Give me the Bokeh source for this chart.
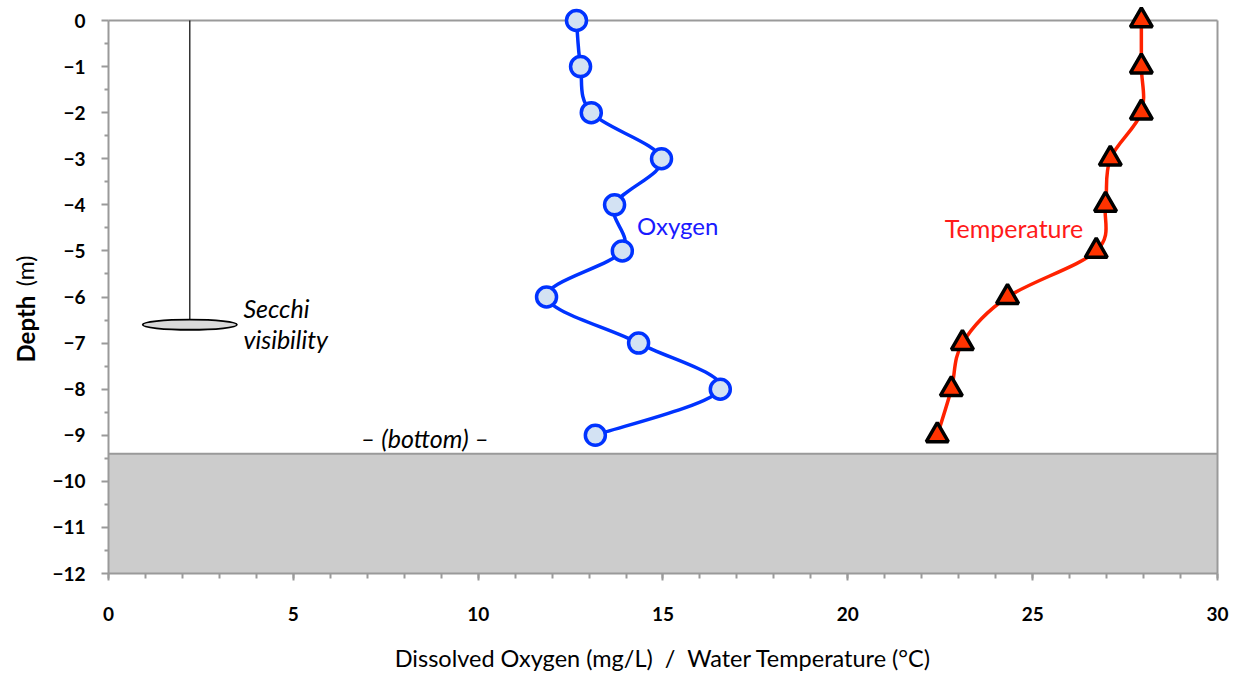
from math import pi

from bokeh.embed import file_html
from bokeh.models import FixedTicker, Label, Range1d
from bokeh.plotting import figure
from bokeh.resources import INLINE

# Depth profile (m) with dissolved oxygen (mg/L) and water temperature (°C)
depth = [0, -1, -2, -3, -4, -5, -6, -7, -8, -9]
oxygen = [12.66, 12.77, 13.06, 14.96, 13.69, 13.90, 11.85, 14.34, 16.55, 13.17]
temperature = [27.94, 27.94, 27.94, 27.10, 26.97, 26.72, 24.32, 23.10, 22.80, 22.42]

# Lake bottom, Secchi disk reading
bottom_depth = -9.4
max_depth = -12
secchi_depth = -6.6
secchi_x = 2.2

x_ticks = [0, 5, 10, 15, 20, 25, 30]
y_ticks = list(range(-12, 1))

FONT = "Lato"
AXIS_GREY = "#9a9a9a"
NBSP = "\u00a0"


def smooth_segments(xs, ys):
    """Catmull-Rom style cubic Bezier segments through every point."""
    n = len(xs)
    segs = dict(x0=[], y0=[], x1=[], y1=[], cx0=[], cy0=[], cx1=[], cy1=[])
    for i in range(n - 1):
        p0 = (xs[max(i - 1, 0)], ys[max(i - 1, 0)])
        p1 = (xs[i], ys[i])
        p2 = (xs[i + 1], ys[i + 1])
        p3 = (xs[min(i + 2, n - 1)], ys[min(i + 2, n - 1)])
        segs["x0"].append(p1[0]); segs["y0"].append(p1[1])
        segs["x1"].append(p2[0]); segs["y1"].append(p2[1])
        segs["cx0"].append(p1[0] + (p2[0] - p0[0]) / 6)
        segs["cy0"].append(p1[1] + (p2[1] - p0[1]) / 6)
        segs["cx1"].append(p2[0] - (p3[0] - p1[0]) / 6)
        segs["cy1"].append(p2[1] - (p3[1] - p1[1]) / 6)
    return segs


# The frame fills the canvas; both axes are pinned at the data origin corner
# (x=0, depth=-12) so their labels and titles sit inside the frame.
p = figure(
    width=1241, height=674,
    x_range=Range1d(-2.921, 30.649), y_range=Range1d(-14.19, 0.434),
    output_backend="svg", toolbar_location=None,
    min_border_left=0, min_border_right=0, min_border_top=0, min_border_bottom=0,
)
p.outline_line_color = None
p.xgrid.visible = False
p.ygrid.visible = False
p.background_fill_color = "white"
p.border_fill_color = "white"

# Lake bed
p.quad(left=0, right=30, bottom=max_depth, top=bottom_depth,
       fill_color="#cccccc", line_color=None)
p.segment(x0=0, y0=bottom_depth, x1=30, y1=bottom_depth, line_color=AXIS_GREY, line_width=2)

# Frame edges (top / right)
p.segment(x0=0, y0=0, x1=30, y1=0, line_color=AXIS_GREY, line_width=2)
p.segment(x0=30, y0=0, x1=30, y1=max_depth, line_color=AXIS_GREY, line_width=2)

# Secchi disk on its line
p.segment(x0=secchi_x, y0=0, x1=secchi_x, y1=secchi_depth, line_color="black", line_width=1.2)
p.ellipse(x=secchi_x, y=secchi_depth, width=2.55, height=0.22,
          fill_color="#d9d9d9", line_color="black", line_width=1.8)

# Oxygen profile
ox = smooth_segments(oxygen, depth)
p.bezier(source=ox, x0="x0", y0="y0", x1="x1", y1="y1", cx0="cx0", cy0="cy0",
         cx1="cx1", cy1="cy1", line_color="#0033ff", line_width=3.5)
p.scatter(oxygen, depth, marker="circle", size=20, fill_color="#d3e2f3",
          line_color="#0033ff", line_width=3.5)

# Temperature profile
tp = smooth_segments(temperature, depth)
p.bezier(source=tp, x0="x0", y0="y0", x1="x1", y1="y1", cx0="cx0", cy0="cy0",
         cx1="cx1", cy1="cy1", line_color="#ff2200", line_width=3.5)
p.scatter(temperature, depth, marker="triangle", size=22, fill_color="#ff3300",
          line_color="black", line_width=3.5)

# Axes
for ax in (p.xaxis[0], p.yaxis[0]):
    ax.axis_line_color = AXIS_GREY
    ax.axis_line_width = 2
    ax.major_tick_line_color = AXIS_GREY
    ax.minor_tick_line_color = AXIS_GREY
    ax.major_tick_line_width = 2
    ax.minor_tick_line_width = 2
    ax.major_tick_in = 0
    ax.minor_tick_in = 0
    ax.major_label_text_font = FONT
    ax.major_label_text_font_style = "bold"
    ax.major_label_text_font_size = "19px"
    ax.major_label_text_color = "black"

p.xaxis.ticker = FixedTicker(ticks=x_ticks, minor_ticks=list(range(0, 31)))
p.xaxis.fixed_location = max_depth
p.xaxis.bounds = (0, 30)
p.xaxis.major_tick_out = 7
p.xaxis.minor_tick_out = 5
p.xaxis.major_label_standoff = 26
p.xaxis.axis_label = f"Dissolved Oxygen (mg/L){NBSP}{NBSP}/{NBSP}{NBSP}Water Temperature (°C)"
p.xaxis.axis_label_text_font = FONT
p.xaxis.axis_label_text_font_style = "normal"
p.xaxis.axis_label_text_font_size = "23.5px"
p.xaxis.axis_label_text_color = "black"
p.xaxis.axis_label_standoff = 20

p.yaxis.ticker = FixedTicker(ticks=y_ticks, minor_ticks=[t + 0.5 for t in y_ticks[:-1]])
p.yaxis.fixed_location = 0
p.yaxis.bounds = (max_depth, 0)
p.yaxis.major_tick_out = 7
p.yaxis.minor_tick_out = 4
p.yaxis.major_label_standoff = 16

# Depth axis title: bold word plus plain unit
p.add_layout(Label(x=-2.25, y=-7.42, text="Depth", angle=pi / 2, text_font=FONT,
                   text_font_style="bold", text_font_size="24px", text_baseline="middle",
                   text_align="left", text_color="black"))
p.add_layout(Label(x=-2.25, y=-5.10, text="(m)", angle=pi / 2, text_font=FONT,
                   text_font_size="23px", text_baseline="middle",
                   text_align="right", text_color="black"))

# In-plot annotations
p.add_layout(Label(x=3.65, y=-6.23, text="Secchi", text_font=FONT, text_font_style="italic",
                   text_font_size="25px", text_baseline="middle", text_color="black"))
p.add_layout(Label(x=3.65, y=-6.9, text="visibility", text_font=FONT, text_font_style="italic",
                   text_font_size="25px", text_baseline="middle", text_color="black"))
p.add_layout(Label(x=14.3, y=-4.45, text="Oxygen", text_font=FONT,
                   text_font_size="24px", text_baseline="middle", text_color="#1a1aff"))
p.add_layout(Label(x=26.37, y=-4.5, text="Temperature", text_font=FONT,
                   text_font_size="25px", text_baseline="middle", text_align="right",
                   text_color="#ff1a1a"))
p.add_layout(Label(x=8.56, y=-9.05, text=f"–{NBSP}(bottom){NBSP}–", text_font=FONT,
                   text_font_style="italic", text_font_size="25px", text_baseline="middle",
                   text_align="center", text_color="black"))

open("out.html", "w").write(file_html(p, INLINE))
